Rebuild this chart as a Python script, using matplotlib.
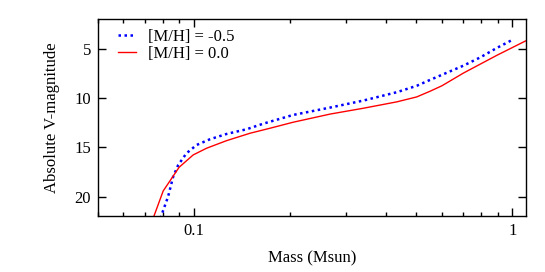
import matplotlib
matplotlib.use("Agg")
import matplotlib.pyplot as plt
from matplotlib.ticker import LogLocator, FixedLocator, NullFormatter, FixedFormatter

# [M/H] = -0.5 (blue dotted)
mass_mp = [0.0785, 0.0830, 0.0861, 0.0893, 0.0948, 0.102, 0.1123, 0.1267, 0.1465,
           0.165, 0.205, 0.268, 0.3406, 0.434, 0.501, 0.552, 0.62, 0.703, 0.795, 0.895, 1.0]
mag_mp = [22.2, 20.0, 17.98, 16.79, 15.6, 14.76, 14.18, 13.64, 13.16,
          12.6, 11.71, 10.96, 10.25, 9.4, 8.75, 8.15, 7.45, 6.7, 5.85, 4.9, 4.09]

# [M/H] = 0.0 (red solid)
mass_sol = [0.0745, 0.0801, 0.0899, 0.0995, 0.1096, 0.1267, 0.150, 0.1734,
            0.205, 0.268, 0.3406, 0.434, 0.501, 0.552, 0.601, 0.703, 0.895, 1.1]
mag_sol = [22.2, 19.43, 17.02, 15.77, 15.09, 14.32, 13.57, 13.06,
           12.45, 11.62, 11.03, 10.38, 9.88, 9.3, 8.75, 7.45, 5.65, 4.2]

labels = ["[M/H] = -0.5", "[M/H] = 0.0"]
xticks = [0.1, 1]
xticklabels = ["0.1", "1"]
yticks = [5, 10, 15, 20]

plt.rcParams['font.family'] = ['Liberation Serif', 'DejaVu Serif']

fig = plt.figure(figsize=(5.45, 2.72), dpi=100)
ax = fig.add_axes([98/545, 1-216.3/272, (526-98)/545, (216.3-19.3)/272])

ax.plot(mass_mp, mag_mp, color='#0000ff', linestyle=(0, (1, 1.4)), linewidth=1.8, label=labels[0])
ax.plot(mass_sol, mag_sol, color='#ff0000', linestyle='-', linewidth=1.0, label=labels[1])

ax.set_xscale('log')
ax.set_xlim(0.05, 1.104)
ax.set_ylim(22, 2)

ax.xaxis.set_major_locator(FixedLocator(xticks))
ax.xaxis.set_major_formatter(FixedFormatter(xticklabels))
ax.xaxis.set_minor_locator(LogLocator(base=10, subs=range(2, 10)))
ax.xaxis.set_minor_formatter(NullFormatter())
ax.set_yticks(yticks)

ax.tick_params(axis='both', which='major', direction='in', length=6, width=1,
               top=True, right=True, labelsize=12, pad=5)
ax.tick_params(axis='x', which='minor', direction='in', length=3, width=1, top=True)
for s in ax.spines.values():
    s.set_linewidth(1.0)

ax.set_xlabel("Mass (Msun)", fontsize=12, labelpad=8)
ax.set_ylabel("Absolute V-magnitude", fontsize=12, labelpad=10)

fs_px = 12 * 100 / 72.0
leg = ax.legend(loc='upper left', frameon=False, fontsize=12, handlelength=18/fs_px,
                handletextpad=12/fs_px, borderaxespad=0.0, borderpad=0.0, labelspacing=0.05,
                bbox_to_anchor=(20/428, 1 - 10/197))

fig.savefig("out.png", dpi=100)
